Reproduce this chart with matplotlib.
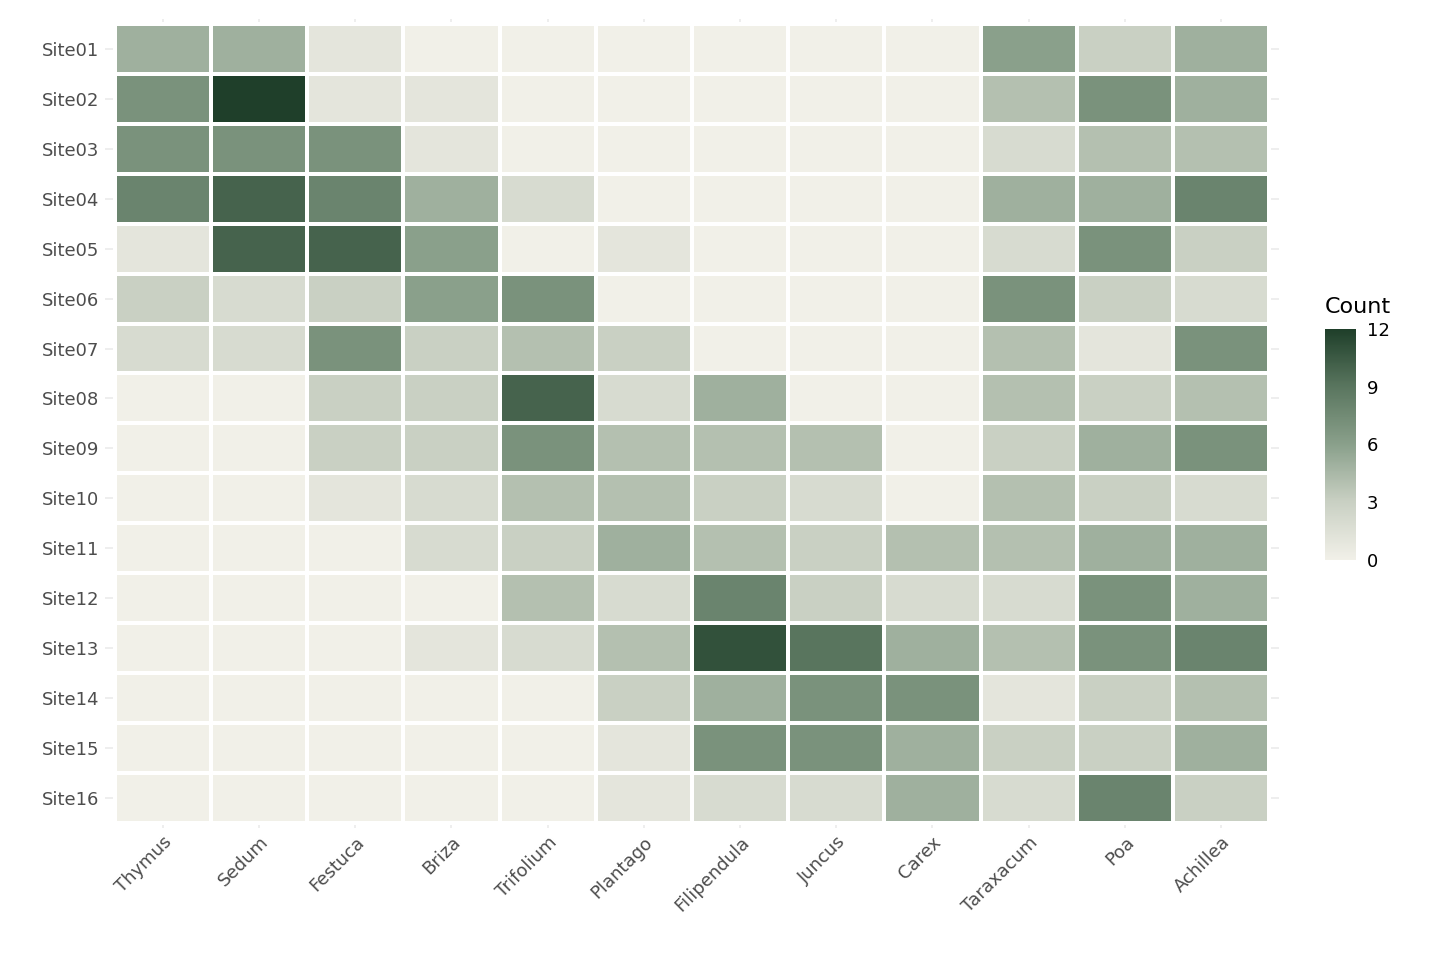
import numpy as np
import matplotlib
matplotlib.use("Agg")
import matplotlib.pyplot as plt
from matplotlib.colors import LinearSegmentedColormap

species = ["Thymus","Sedum","Festuca","Briza","Trifolium","Plantago","Filipendula","Juncus","Carex","Taraxacum","Poa","Achillea"]
sites = [f"Site{i:02d}" for i in range(1,17)]
counts = [
 [5,5,1,0,0,0,0,0,0,6,3,5],
 [7,12,1,1,0,0,0,0,0,4,7,5],
 [7,7,7,1,0,0,0,0,0,2,4,4],
 [8,10,8,5,2,0,0,0,0,5,5,8],
 [1,10,10,6,0,1,0,0,0,2,7,3],
 [3,2,3,6,7,0,0,0,0,7,3,2],
 [2,2,7,3,4,3,0,0,0,4,1,7],
 [0,0,3,3,10,2,5,0,0,4,3,4],
 [0,0,3,3,7,4,4,4,0,3,5,7],
 [0,0,1,2,4,4,3,2,0,4,3,2],
 [0,0,0,2,3,5,4,3,4,4,5,5],
 [0,0,0,0,4,2,8,3,2,2,7,5],
 [0,0,0,1,2,4,11,9,5,4,7,8],
 [0,0,0,0,0,3,5,7,7,1,3,4],
 [0,0,0,0,0,1,7,7,5,3,3,5],
 [0,0,0,0,0,1,2,2,5,2,8,3],
]
data = np.array(counts)

cmap = LinearSegmentedColormap.from_list("g", ["#f1f0e8","#c9d0c3","#8aa08b","#5a765f","#1f3f2a"])
fig = plt.figure(figsize=(14.4,9.6), dpi=100)
ax = fig.add_axes([0.073,0.138,0.815,0.842])
ax.set_facecolor("white")
ax.set_xticks(range(len(species)))
ax.set_yticks(range(len(sites)))
ax.grid(True, color="#ebebeb", lw=1.2)
ax.set_axisbelow(True)
ax.set_xlim(-0.5,len(species)-0.5+0.1); ax.set_ylim(len(sites)-0.5+0.1,-0.6)
for s in ax.spines.values(): s.set_visible(False)
ax.set_xlim(-0.6,len(species)-0.4)
m = ax.pcolormesh(np.arange(len(species)+1)-0.5, np.arange(len(sites)+1)-0.5, data,
                  cmap=cmap, vmin=0, vmax=12, edgecolor="white", linewidth=1.5, zorder=2)
ax.set_xticklabels(species, rotation=45, ha="right", rotation_mode="anchor", fontsize=13, color="#4d4d4d")
ax.set_yticklabels(sites, fontsize=13, color="#4d4d4d")
ax.tick_params(length=0, pad=4)
cax = fig.add_axes([0.92,0.417,0.022,0.24])
cb = fig.colorbar(m, cax=cax, ticks=[0,3,6,9,12])
cb.outline.set_visible(False)
cb.ax.tick_params(labelsize=13, length=4, color="white")
cax.set_title("Count", fontsize=16, loc="left", pad=12)
fig.savefig("out.png", dpi=100)
